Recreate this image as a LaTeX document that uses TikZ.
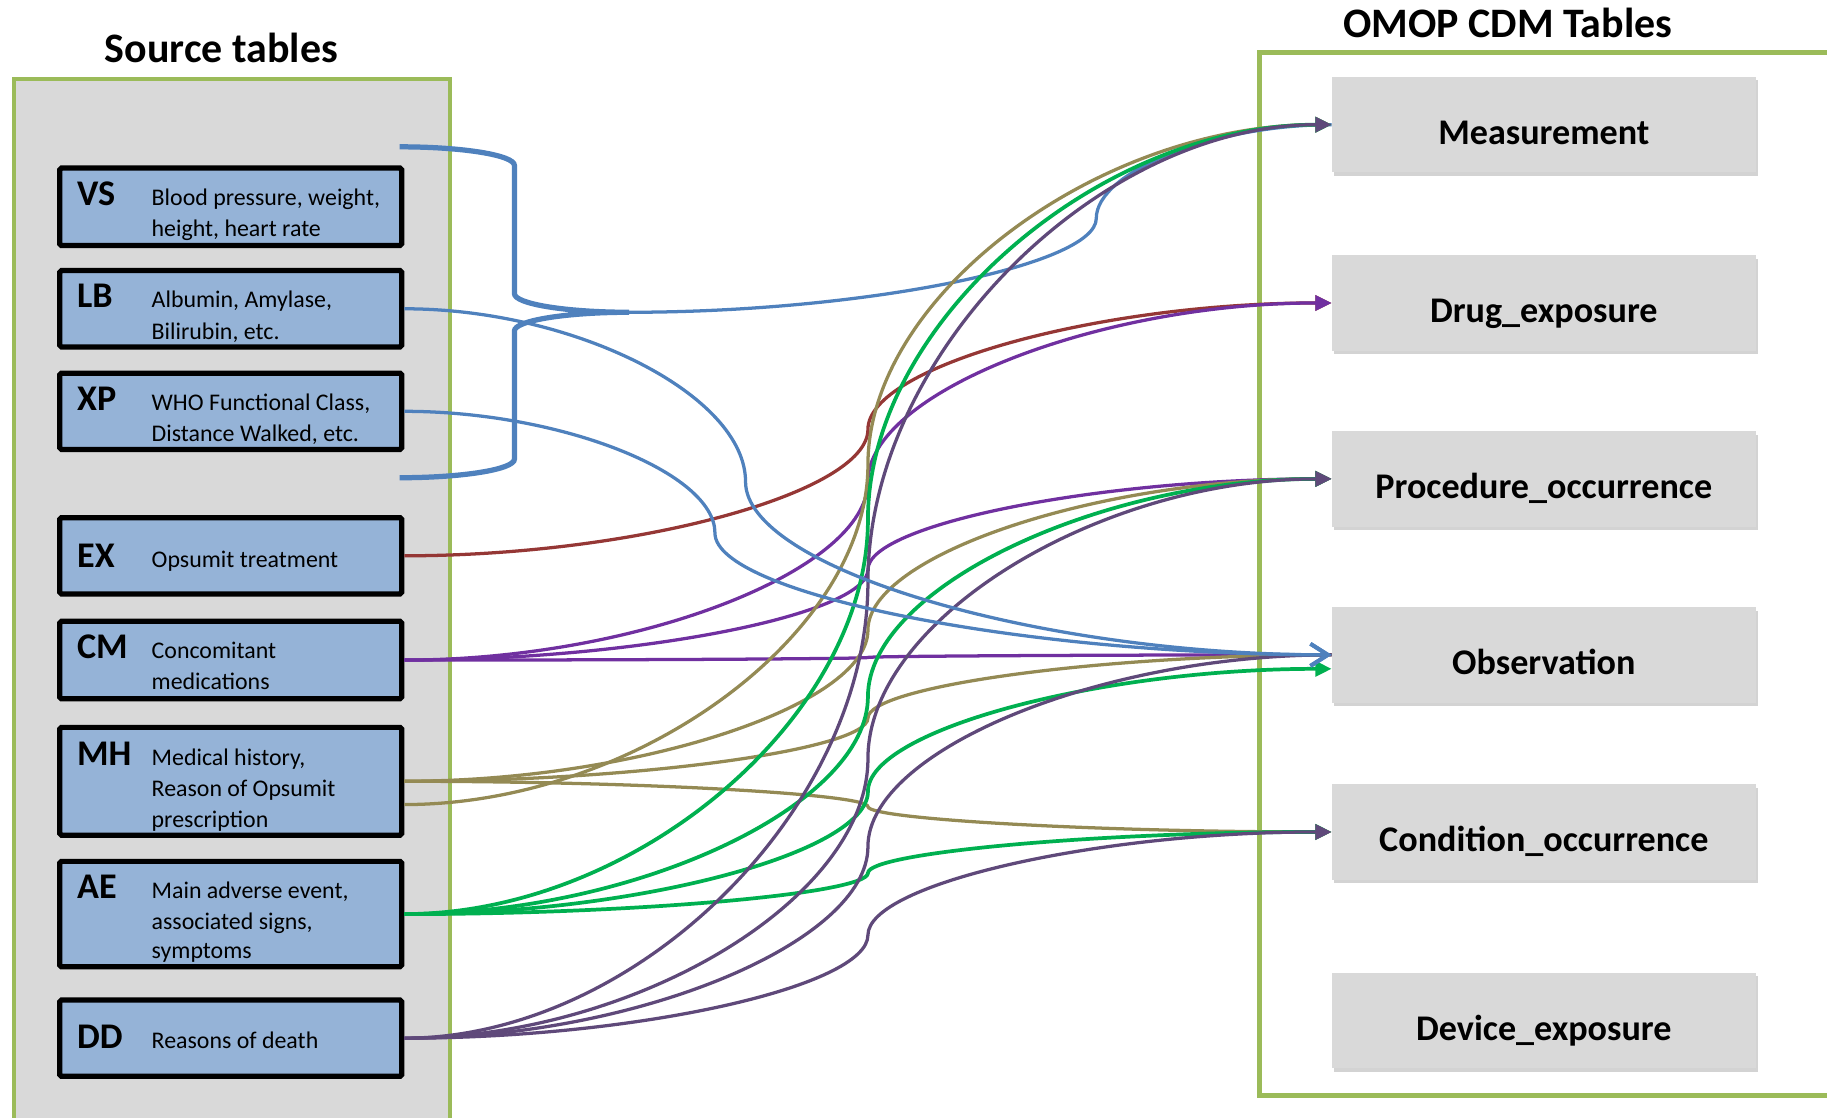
\documentclass[tikz,border=0pt]{standalone}
\usepackage{fontspec}
\setmainfont{Carlito}
\usetikzlibrary{arrows.meta,calc,shadows}
\definecolor{pgreen}{HTML}{9BBB59}
\definecolor{pgray}{HTML}{D9D9D9}
\definecolor{sblue}{HTML}{95B3D7}
\definecolor{cblue}{HTML}{4F81BD}
\definecolor{cred}{HTML}{953735}
\definecolor{cpurple}{HTML}{7030A0}
\definecolor{colive}{HTML}{948A54}
\definecolor{cgreen}{HTML}{00B050}
\definecolor{cdpurple}{HTML}{5F497A}
\begin{document}
\begin{tikzpicture}[x=1pt,y=1pt,
  panel/.style={draw=pgreen, line width=3.8pt},
  srcbox/.style={draw=black, line width=4.5pt, fill=sblue, rounded corners=1.5pt, minimum width=293.5pt, inner sep=0pt},
  tgtbox/.style={fill=pgray, minimum width=364pt, minimum height=82pt, inner sep=0pt,
     drop shadow={shadow xshift=1.5pt, shadow yshift=-3pt, opacity=0.35}},
  titletext/.style={font=\fontsize{36}{40}\selectfont\bfseries, inner sep=0pt, anchor=base},
  abbr/.style={font=\fontsize{31}{35}\selectfont\bfseries, inner sep=0pt, anchor=base west},
  desc/.style={font=\fontsize{20.5}{27}\selectfont, inner sep=0pt, anchor=base west},
  tlabel/.style={font=\fontsize{31}{35}\selectfont\bfseries, inner sep=0pt, anchor=base},
  conn/.style={line width=2.8pt},
  gconn/.style={line width=3.2pt, cgreen},
  filledhead/.style={-{Triangle[length=14pt,width=13pt]}},
  openhead/.style={-{Straight Barb[length=15pt,width=19pt,line width=3.4pt]}},
  pptcurve/.style={to path={let \p1=(\tikztostart), \p2=(\tikztotarget), \n1={\x1+#1*(\x2-\x1)} in
     .. controls ({(\x1+\n1)/2},\y1) and (\n1,{\y1+(\y2-\y1)/4}) .. (\n1,{(\y1+\y2)/2})
     .. controls (\n1,{\y1+3*(\y2-\y1)/4}) and ({(\n1+\x2)/2},\y2) .. (\p2)}},
  pptcurve/.default=0.5
]
\useasboundingbox (0,0) rectangle (1568,-959);
\clip (0,0) rectangle (1568,-959);

% panels
\draw[panel, fill=pgray] (12,-68) rectangle (386,-990);
\draw[panel] (1620,-45) -- (1081,-45) -- (1081,-940) -- (1620,-940);

% titles
\node[titletext] (srcT) at (190,-54) {Source tables};
\node[titletext] (omopT) at (1294,-32) {OMOP CDM Tables};

% source boxes
\node[srcbox, minimum height=66.5pt] (VS) at (198,-177.5) {};
\node[srcbox, minimum height=65.5pt] (LB) at (198,-265) {};
\node[srcbox, minimum height=65.5pt] (XP) at (198,-353) {};
\node[srcbox, minimum height=65.5pt] (EX) at (198,-477) {};
\node[srcbox, minimum height=66.5pt] (CM) at (198,-566.5) {};
\node[srcbox, minimum height=92.5pt] (MH) at (198,-670.5) {};
\node[srcbox, minimum height=90.5pt] (AE) at (198,-784.5) {};
\node[srcbox, minimum height=65.5pt] (DD) at (198,-891) {};

\node[abbr] (VSa) at (66,-176) {VS};
\node[desc] (VSd1) at (130,-176) {Blood pressure, weight,};
\node[desc] (VSd2) at (130,-203) {height, heart rate};
\node[abbr] (LBa) at (66,-264) {LB};
\node[desc] (LBd1) at (130,-264) {Albumin, Amylase,};
\node[desc] (LBd2) at (130,-291) {Bilirubin, etc.};
\node[abbr] (XPa) at (66,-352) {XP};
\node[desc] (XPd1) at (130,-352) {WHO Functional Class,};
\node[desc] (XPd2) at (130,-379) {Distance Walked, etc.};
\node[abbr] (EXa) at (66,-487) {EX};
\node[desc] (EXd1) at (130,-487) {Opsumit treatment};
\node[abbr] (CMa) at (66,-565) {CM};
\node[desc] (CMd1) at (130,-565) {Concomitant};
\node[desc] (CMd2) at (130,-592) {medications};
\node[abbr] (MHa) at (66,-657) {MH};
\node[desc] (MHd1) at (130,-657) {Medical history,};
\node[desc] (MHd2) at (130,-684) {Reason of Opsumit};
\node[desc] (MHd3) at (130,-710) {prescription};
\node[abbr] (AEa) at (66,-771) {AE};
\node[desc] (AEd1) at (130,-771) {Main adverse event,};
\node[desc] (AEd2) at (130,-798) {associated signs,};
\node[desc] (AEd3) at (130,-823) {symptoms};
\node[abbr] (DDa) at (66,-900) {DD};
\node[desc] (DDd1) at (130,-900) {Reasons of death};

% target boxes
\node[tgtbox] (Meas) at (1325,-107) {};
\node[tgtbox] (Drug) at (1325,-260) {};
\node[tgtbox] (Proc) at (1325,-411) {};
\node[tgtbox] (Obs)  at (1325,-562) {};
\node[tgtbox] (Cond) at (1325,-714) {};
\node[tgtbox] (Dev)  at (1325,-876) {};
\node[tlabel] (MeasL) at ([yshift=-17pt]Meas.center) {Measurement};
\node[tlabel] (DrugL) at ([yshift=-17pt]Drug.center) {Drug\_exposure};
\node[tlabel] (ProcL) at ([yshift=-17pt]Proc.center) {Procedure\_occurrence};
\node[tlabel] (ObsL)  at ([yshift=-17pt]Obs.center) {Observation};
\node[tlabel] (CondL) at ([yshift=-17pt]Cond.center) {Condition\_occurrence};
\node[tlabel] (DevL)  at ([yshift=-17pt]Dev.center) {Device\_exposure};

% extra anchor points
\coordinate (mh2) at ([yshift=-20pt]MH.east);
\coordinate (obsg) at ([yshift=-12pt]Obs.west);

% brace
\draw[cblue, line width=4.5pt] (343,-126)
  arc[start angle=90,end angle=0,x radius=98.5,y radius=16] -- (441.5,-252)
  arc[start angle=180,end angle=270,x radius=98.5,y radius=16] coordinate (bt)
  arc[start angle=90,end angle=180,x radius=98.5,y radius=16] -- (441.5,-394)
  arc[start angle=0,end angle=-90,x radius=98.5,y radius=16];
\draw[conn, cblue] (bt) to[pptcurve=0.665] (Meas.west);

% EX
\draw[conn, cred, filledhead] (EX.east) to[pptcurve] (Drug.west);
% CM
\draw[conn, cpurple, filledhead] (CM.east) to[pptcurve] (Drug.west);
\draw[conn, cpurple, filledhead] (CM.east) to[pptcurve] (Proc.west);
\draw[conn, cpurple] (CM.east) to[pptcurve] (Obs.west);
% MH
\draw[conn, colive, filledhead] (mh2) to[pptcurve] (Meas.west);
\draw[conn, colive, filledhead] (MH.east) to[pptcurve] (Proc.west);
\draw[conn, colive] (MH.east) to[pptcurve] (Obs.west);
\draw[conn, colive, filledhead] (MH.east) to[pptcurve] (Cond.west);
% AE
\draw[gconn, filledhead] (AE.east) to[pptcurve] (Meas.west);
\draw[gconn, filledhead] (AE.east) to[pptcurve] (Proc.west);
\draw[gconn, filledhead] (AE.east) to[pptcurve] (obsg);
\draw[gconn, filledhead] (AE.east) to[pptcurve] (Cond.west);
% DD
\draw[conn, cdpurple, filledhead] (DD.east) to[pptcurve] (Meas.west);
\draw[conn, cdpurple, filledhead] (DD.east) to[pptcurve] (Proc.west);
\draw[conn, cdpurple] (DD.east) to[pptcurve] (Obs.west);
\draw[conn, cdpurple, filledhead] (DD.east) to[pptcurve] (Cond.west);
% LB, XP
\draw[conn, cblue, openhead] (LB.east) to[pptcurve=0.368] (Obs.west);
\draw[conn, cblue, openhead] (XP.east) to[pptcurve=0.335] (Obs.west);
\end{tikzpicture}
\end{document}
